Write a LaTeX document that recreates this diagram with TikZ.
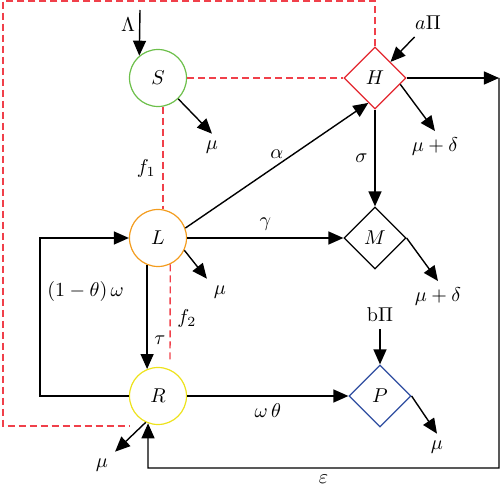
\documentclass[tikz,border=0pt]{standalone}
\usetikzlibrary{arrows.meta,shapes.geometric}
\definecolor{sgreen}{HTML}{6CBF4A}
\definecolor{lorange}{HTML}{F39C1E}
\definecolor{ryellow}{HTML}{EDE21C}
\definecolor{hred}{HTML}{E3262E}
\definecolor{pblue}{HTML}{2E4DA0}
\definecolor{fred}{HTML}{F0404A}
\begin{document}
\begin{tikzpicture}[x=0.5pt,y=-0.5pt,
        comp/.style={circle, draw, line width=0.6pt, minimum size=28.5pt, inner sep=0pt},
        ward/.style={diamond, draw, line width=0.6pt, minimum size=31pt, inner sep=0pt},
        flow/.style={-{Triangle[length=7.5pt,width=6.5pt]}, line width=0.7pt},
        force/.style={draw=fred, line width=0.7pt, dash pattern=on 3.5pt off 2pt}]
    \useasboundingbox (0,0) rectangle (500,498);

    % compartments
    \node[comp, draw=sgreen] (S) at (158,78) {$S$};
    \node[comp, draw=lorange] (L) at (158,238) {$L$};
    \node[comp, draw=ryellow] (R) at (158,396) {$R$};
    \node[ward, draw=hred] (H) at (375,78) {$H$};
    \node[ward] (M) at (375,238) {$M$};
    \node[ward, draw=pblue] (P) at (380,396) {$P$};

    % inflows and outflows
    \node (lam) at (128,25) {$\Lambda$};
    \coordinate (lamS) at (140,10);
    \node (aPi) at (428,23) {$a\Pi$};
    \node (bPi) at (380,315) {$\mathrm{b}\Pi$};
    \node (muS) at (212,147) {$\mu$};
    \node (muL) at (220,292) {$\mu$};
    \node (muR) at (102,465) {$\mu$};
    \node (muP) at (437,447) {$\mu$};
    \node (mdH) at (435,147) {$\mu+\delta$};
    \node (mdM) at (438,297) {$\mu+\delta$};
    \coordinate (eTop) at (499,78);
    \coordinate (eBot) at (148,468);
    \coordinate (fTwo) at (170,362);
    \coordinate (fEnd) at (130,426);

    \draw[flow] (lamS) -- (S.130);
    \draw[flow] (aPi) -- (H);
    \draw[flow] (bPi) -- (P);
    \draw[flow] (S) -- (muS.north);
    \draw[flow] (L.-25) -- (muL.north west);
    \draw[flow] (R.-115) -- (muR.north east);
    \draw[flow] (P.east) -- (muP.north);
    \draw[flow] (H.-14) -- (mdH.north);
    \draw[flow] (M.east) -- (mdM.north);

    % transitions
    \draw[flow] (L.20) -- (H.255) node[midway, above] {$\alpha$};
    \draw[flow] (L) -- (M) node[midway, above] {$\gamma$};
    \draw[flow] (H) -- (M) node[midway, left] {$\sigma$};
    \draw[flow] (L.-112) -- (R.112) node[pos=0.72, right] {$\tau$};
    \draw[flow] (R) -- (P) node[midway, below] {$\omega\,\theta$};
    \draw[flow] (R) -- ++(-118,0) |- (L) node[pos=0.33, right] {$(1-\theta)\,\omega$};
    \draw[flow] (H) -- (eTop);
    \draw[flow] (eTop) |- (eBot) node[pos=0.75, below] {$\varepsilon$} -- (R.-110);

    % force of infection
    \draw[force] (S) -- (H);
    \draw[force] (S.-80) -- (L.80) node[pos=0.6, left] {$f_1$};
    \draw[force] (L.-65) -- (fTwo) node[pos=0.55, right] {$f_2$};
    \draw[force] (H.north) |- (3,1) |- (fEnd);
\end{tikzpicture}
\end{document}
